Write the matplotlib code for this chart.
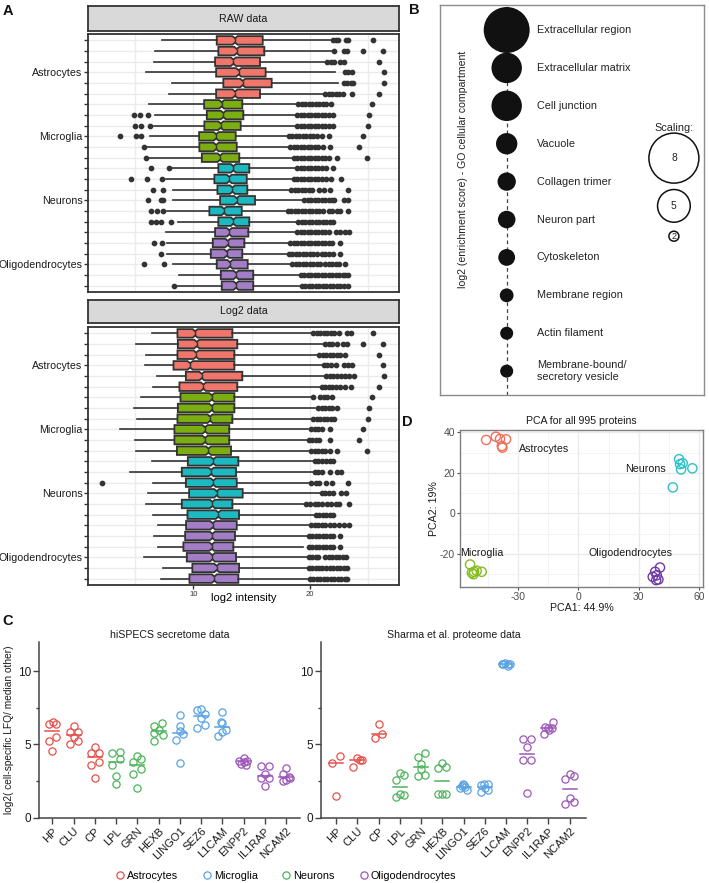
import numpy as np
import matplotlib
matplotlib.use('Agg')
import matplotlib.pyplot as plt
from matplotlib.lines import Line2D

plt.rcParams['font.family'] = ['Liberation Sans', 'DejaVu Sans']
plt.rcParams['axes.unicode_minus'] = False

# ======================= DATA =======================
cell_types = ['Astrocytes', 'Microglia', 'Neurons', 'Oligodendrocytes']
n_per_type = 6

# ---- Panel A: per-sample box statistics (log2 intensity scale) ----
raw_whislo = [7.29, 6.72, 6.63, 5.92, 8.15, 7.92, 6.2, 6.72, 6.63, 6.23, 6.0, 6.1,
              8.15, 7.63, 8.29, 8.29, 7.72, 8.7, 7.63, 7.72, 7.72, 8.29, 8.72, 8.6]
raw_q1 = [12.0, 12.14, 11.86, 11.95, 12.57, 11.95, 10.92, 11.15, 10.94, 10.49, 10.51, 10.72,
          12.14, 11.8, 12.06, 12.29, 11.37, 12.14, 11.86, 11.66, 11.49, 12.0, 12.35, 12.43]
raw_med = [13.57, 13.72, 13.43, 13.89, 14.23, 13.57, 12.43, 12.57, 12.35, 11.95, 11.95, 12.29,
           13.43, 13.08, 13.35, 13.72, 12.63, 13.43, 13.08, 12.95, 12.86, 13.14, 13.66, 13.66]
raw_q3 = [15.95, 16.09, 15.72, 16.2, 16.72, 15.72, 14.2, 14.29, 14.06, 13.63, 13.72, 13.94,
          14.8, 14.58, 14.63, 15.29, 14.15, 14.8, 14.72, 14.38, 14.2, 14.66, 15.14, 15.14]
raw_whishi = [21.7, 21.86, 21.37, 22.14, 22.43, 21.14, 18.86, 18.71, 18.71, 18.14, 18.29, 18.57,
              18.71, 18.57, 18.29, 19.43, 17.9, 18.9, 18.8, 18.2, 18.1, 18.4, 19.1, 19.2]
raw_fliers = [
    [22.0, 22.2, 22.4, 23.1, 23.3, 25.4],
    [22.1, 22.9, 23.2, 24.6, 26.3],
    [21.5, 21.8, 22.1, 22.6, 22.9, 25.9],
    [23.0, 23.3, 23.6, 26.4],
    [22.9, 23.2, 23.5, 23.7, 26.4],
    [21.3, 21.6, 21.9, 22.2, 22.5, 22.8, 23.6, 25.9],
    [19.0, 19.3, 19.6, 19.9, 20.2, 20.5, 20.8, 21.1, 21.4, 21.8, 25.3],
    [4.9, 5.4, 6.1, 18.9, 19.2, 19.5, 19.8, 20.1, 20.4, 20.7, 21.0, 21.3, 21.6, 22.0, 25.1],
    [5.0, 5.5, 6.3, 18.9, 19.2, 19.5, 19.8, 20.1, 20.4, 20.7, 21.0, 21.3, 21.6, 22.0, 25.0],
    [3.7, 5.1, 5.5, 18.2, 18.5, 18.8, 19.1, 19.4, 19.7, 20.0, 20.3, 20.6, 21.0, 21.6, 24.6],
    [5.8, 18.3, 18.6, 18.9, 19.2, 19.5, 19.8, 20.1, 20.4, 20.7, 21.1, 21.7, 24.2],
    [5.9, 18.6, 18.9, 19.2, 19.5, 19.8, 20.1, 20.4, 20.7, 21.0, 21.3, 21.6, 22.3, 24.9],
    [6.4, 7.9, 18.9, 19.2, 19.5, 19.8, 20.1, 20.4, 20.7, 21.0, 21.4, 22.0],
    [4.6, 6.0, 7.3, 18.6, 18.9, 19.2, 19.5, 19.8, 20.1, 20.4, 20.7, 21.0, 21.4, 21.8, 22.7],
    [6.5, 7.4, 18.4, 18.7, 19.0, 19.3, 19.6, 19.9, 20.2, 20.8, 21.2, 21.7, 23.3],
    [6.1, 7.2, 7.4, 19.5, 19.8, 20.1, 20.4, 20.7, 21.0, 21.3, 21.6, 21.9, 22.1, 22.9, 23.3],
    [6.4, 6.9, 7.4, 18.1, 18.4, 18.7, 19.0, 19.3, 19.6, 19.9, 20.2, 20.5, 20.8, 21.1, 21.6, 21.9, 22.3, 22.6, 23.3],
    [6.4, 6.8, 7.2, 8.1, 19.0, 19.3, 19.6, 19.9, 20.2, 20.5, 20.8, 21.1, 21.4, 21.7, 22.0],
    [18.9, 19.2, 19.5, 19.8, 20.1, 20.4, 20.7, 21.0, 21.3, 21.6, 22.2, 22.6, 23.0, 23.4],
    [6.6, 7.3, 18.3, 18.6, 18.9, 19.2, 19.5, 19.8, 20.1, 20.4, 20.7, 21.0, 21.3, 21.6, 21.9, 22.6],
    [7.2, 18.2, 18.5, 18.8, 19.1, 19.4, 19.7, 20.0, 20.3, 20.6, 21.0, 21.3, 21.6, 22.0, 22.6],
    [5.8, 7.5, 18.5, 18.8, 19.1, 19.4, 19.7, 20.0, 20.3, 20.6, 20.9, 21.3, 21.6, 21.9, 22.2, 22.5, 23.0],
    [19.2, 19.5, 19.8, 20.1, 20.4, 20.7, 21.0, 21.3, 21.6, 21.9, 22.2, 22.5, 22.8, 23.0, 23.3],
    [8.3, 19.3, 19.6, 19.9, 20.2, 20.5, 20.8, 21.1, 21.4, 21.7, 22.0, 22.3, 22.6, 22.9, 23.3],
]

log_whislo = [6.43, 5.07, 5.95, 5.86, 6.86, 6.52, 5.49, 4.92, 5.15, 3.72, 5.0, 5.1,
              6.43, 4.58, 6.52, 6.14, 5.95, 6.52, 6.95, 6.63, 7.0, 5.78, 7.43, 7.24]
log_q1 = [8.63, 8.66, 8.63, 8.29, 9.35, 8.8, 8.89, 8.66, 8.63, 8.37, 8.37, 8.58,
          9.52, 9.0, 9.35, 9.63, 9.0, 9.49, 9.37, 9.29, 9.14, 9.43, 9.91, 9.66]
log_med = [10.15, 10.29, 10.23, 9.72, 10.72, 10.86, 11.58, 11.58, 11.43, 11.0, 11.0, 11.29,
           11.71, 11.52, 11.71, 12.0, 11.63, 12.14, 11.66, 11.63, 11.58, 11.63, 12.0, 11.8]
log_q3 = [13.35, 13.77, 13.52, 13.52, 14.2, 13.77, 13.52, 13.52, 13.35, 13.08, 13.08, 13.23,
          13.86, 13.66, 13.72, 14.23, 13.35, 13.92, 13.72, 13.57, 13.43, 13.66, 13.92, 13.86]
log_whishi = [20.2, 21.2, 20.7, 21.1, 21.35, 20.95, 20.2, 20.4, 20.2, 19.85, 19.77, 20.0,
              20.3, 20.3, 20.0, 20.9, 19.6, 20.4, 20.0, 19.8, 19.37, 19.8, 19.8, 19.9]
log_fliers = [
    [20.3, 20.6, 20.9, 21.2, 21.5, 21.8, 22.1, 22.5, 23.2, 23.5, 25.4],
    [21.3, 21.6, 21.9, 22.3, 22.8, 23.2, 24.6, 26.3],
    [20.8, 21.1, 21.4, 21.7, 22.0, 22.3, 22.6, 23.0, 25.9],
    [21.2, 21.5, 21.8, 22.2, 22.9, 23.3, 23.6, 26.3],
    [21.4, 21.7, 22.0, 22.3, 22.7, 23.0, 23.4, 23.8, 26.4],
    [21.0, 21.3, 21.6, 21.9, 22.2, 22.6, 23.0, 23.5, 25.9],
    [20.3, 20.9, 21.2, 21.5, 21.9, 25.3],
    [20.7, 21.0, 21.3, 21.6, 21.9, 22.3, 25.1],
    [20.3, 20.6, 20.9, 21.2, 21.5, 21.8, 22.1, 25.0],
    [20.1, 20.4, 20.7, 21.0, 21.7, 24.6],
    [19.9, 20.2, 20.5, 20.8, 21.7, 24.2],
    [20.1, 20.4, 20.7, 21.0, 21.3, 21.7, 22.3, 24.9],
    [20.4, 20.7, 21.0, 21.4, 21.7, 22.0],
    [20.4, 20.7, 21.0, 21.7, 22.3, 22.7],
    [2.15, 20.1, 20.5, 20.8, 21.4, 21.9, 23.3],
    [21.0, 21.3, 21.6, 22.0, 22.7, 23.1],
    [19.7, 20.0, 20.4, 20.7, 21.0, 21.5, 21.8, 22.2, 22.5, 23.4],
    [20.5, 20.8, 21.1, 21.4, 21.7, 22.0],
    [20.1, 20.4, 20.7, 21.0, 21.3, 21.7, 22.1, 22.5, 22.9, 23.4],
    [19.9, 20.2, 20.5, 20.8, 21.1, 21.4, 21.7, 22.0, 22.6],
    [19.9, 20.2, 20.5, 20.8, 21.1, 21.4, 21.7, 22.0, 22.6],
    [19.9, 20.2, 20.5, 20.7, 21.3, 21.6, 21.9, 22.2, 22.5, 22.8, 23.1],
    [19.9, 20.2, 20.5, 20.8, 21.0, 21.4, 21.7, 22.0, 22.3, 22.6, 22.9, 23.2],
    [20.0, 20.3, 20.6, 20.9, 21.2, 21.5, 21.8, 22.1, 22.4, 22.7, 23.0, 23.2],
]
notch_halfwidth = 0.22

# ---- Panel B: GO enrichment ----
go_terms = ['Extracellular region', 'Extracellular matrix', 'Cell junction', 'Vacuole',
            'Collagen trimer', 'Neuron part', 'Cytoskeleton', 'Membrane region',
            'Actin filament', 'Membrane-bound/\nsecretory vesicle']
go_score = [7.3, 4.7, 4.7, 3.5, 3.1, 3.0, 2.9, 2.5, 2.4, 2.4]
legend_scores = [8, 5, 2]

# ---- Panel C: marker proteins ----
genes = ['HP', 'CLU', 'CP', 'LPL', 'GRN', 'HEXB', 'LINGO1', 'SEZ6', 'L1CAM', 'ENPP2', 'IL1RAP', 'NCAM2']
gene_type = ['Astrocytes'] * 3 + ['Neurons'] * 3 + ['Microglia'] * 3 + ['Oligodendrocytes'] * 3
hispecs_vals = [
    [6.39, 6.53, 6.39, 5.26, 5.50, 4.57],
    [6.28, 5.84, 5.84, 5.47, 5.03, 5.2],
    [4.85, 4.44, 4.44, 3.58, 3.77, 2.73],
    [4.44, 4.46, 4.0, 3.58, 2.84, 2.31],
    [4.2, 3.81, 4.0, 3.35, 2.96, 2.04],
    [6.23, 6.46, 6.0, 5.66, 5.77, 5.26],
    [6.97, 6.28, 5.31, 5.7, 5.89, 3.74],
    [7.34, 7.43, 7.04, 6.81, 6.12, 6.35],
    [7.22, 6.5, 6.45, 5.95, 5.59, 5.85],
    [4.09, 3.88, 3.88, 3.65, 3.58, 3.81],
    [3.51, 3.51, 3.0, 2.73, 2.73, 2.13],
    [3.42, 2.96, 2.8, 2.5, 2.55, 2.7],
]
hispecs_jitter = [
    [-0.16, 0.03, 0.19, -0.16, 0.19, 0.0],
    [0.0, -0.19, 0.19, 0.0, -0.19, 0.19],
    [0.02, -0.16, 0.2, -0.16, 0.2, 0.02],
    [-0.19, 0.19, 0.19, -0.19, 0.0, 0.0],
    [0.0, -0.2, 0.17, 0.17, -0.2, 0.0],
    [-0.2, 0.16, 0.0, 0.19, -0.2, -0.2],
    [0.0, 0.0, -0.19, 0.16, 0.0, 0.0],
    [-0.2, 0.0, 0.2, 0.0, -0.2, 0.19],
    [-0.03, -0.06, 0.0, 0.19, -0.19, 0.0],
    [0.0, -0.19, 0.16, -0.11, 0.13, 0.0],
    [-0.19, 0.19, 0.0, -0.19, 0.19, 0.0],
    [0.0, -0.16, 0.16, -0.16, 0.0, 0.19],
]
sharma_vals = [
    [3.75, 4.18, 1.45],
    [4.05, 3.95, 3.93, 3.48],
    [6.41, 5.45, 5.73],
    [3.07, 2.55, 2.89, 1.41, 1.52, 1.64],
    [4.14, 4.43, 3.64, 2.84, 2.91, 3.3],
    [3.36, 3.48, 3.75, 1.64, 1.64, 1.64],
    [2.05, 2.23, 2.16, 1.86, 2.09, 2.32],
    [2.2, 2.32, 1.75, 1.86, 2.05, 2.32],
    [10.5, 10.57, 10.5, 10.45, 10.34, 10.45],
    [5.34, 5.34, 4.82, 3.91, 3.91, 1.68],
    [5.73, 6.18, 6.09, 6.52, 6.09, 5.95],
    [2.61, 3.0, 2.84, 0.95, 1.09, 1.36],
]
sharma_jitter = [
    [-0.2, 0.16, 0.0],
    [0.0, 0.1, 0.19, -0.2],
    [0.0, -0.19, 0.17],
    [0.0, -0.2, 0.17, -0.2, 0.17, 0.0],
    [-0.17, 0.19, 0.0, -0.17, 0.19, 0.0],
    [-0.19, 0.17, 0.0, -0.19, 0.17, 0.0],
    [-0.19, 0.0, -0.09, 0.17, 0.06, -0.03],
    [-0.19, 0.16, -0.19, 0.16, 0.0, -0.03],
    [-0.2, -0.05, 0.11, 0.19, 0.08, -0.13],
    [-0.2, 0.17, 0.0, -0.2, 0.17, 0.0],
    [-0.19, -0.16, 0.0, 0.2, 0.19, 0.03],
    [-0.2, 0.0, 0.19, -0.2, 0.19, 0.0],
]

# ---- Panel D: PCA ----
pca_pc1 = {
    'Astrocytes': [-45.9, -41.1, -39.0, -36.0, -38.1, -37.8],
    'Microglia': [-53.9, -53.0, -51.9, -50.6, -48.1, -52.2],
    'Neurons': [50.1, 50.6, 51.9, 51.1, 56.7, 47.0],
    'Oligodendrocytes': [40.6, 38.2, 39.0, 37.0, 39.8, 38.7],
}
pca_pc2 = {
    'Astrocytes': [36.2, 37.8, 36.7, 36.5, 33.2, 32.4],
    'Microglia': [-25.2, -29.3, -28.8, -28.3, -28.8, -30.0],
    'Neurons': [26.7, 24.3, 24.7, 21.7, 22.2, 12.8],
    'Oligodendrocytes': [-26.7, -28.8, -30.5, -31.3, -32.6, -32.9],
}
pca_label_pos = {
    'Astrocytes': (-17.1, 31.8),
    'Neurons': (33.5, 21.7),
    'Microglia': (-48.1, -19.5),
    'Oligodendrocytes': (26.1, -19.5),
}

# ======================= STYLE =======================
W, H = 709, 883
fig = plt.figure(figsize=(W / 100, H / 100), dpi=100)
DARK = '#333333'
GRID = '#EBEBEB'
box_colors = {'Astrocytes': '#F0766C', 'Microglia': '#7CAE12', 'Neurons': '#1DB9C0',
              'Oligodendrocytes': '#A37DC6'}
pca_colors = {'Astrocytes': '#F0705A', 'Microglia': '#86BC1E', 'Neurons': '#2EC0C8',
              'Oligodendrocytes': '#6E3AA6'}
c_colors = {'Astrocytes': '#E4504A', 'Microglia': '#5AA3E3', 'Neurons': '#4DB45A',
            'Oligodendrocytes': '#9C56B8'}


def ax_px(x0, y0, x1, y1, **kw):
    return fig.add_axes([x0 / W, 1 - y1 / H, (x1 - x0) / W, (y1 - y0) / H], **kw)


# ======================= PANEL A =======================
def box_panel(ax, whislo, q1, med, q3, whishi, fliers, show_x):
    n = len(med)
    stats = []
    for i in range(n):
        stats.append(dict(whislo=whislo[i], q1=q1[i], med=med[i], q3=q3[i], whishi=whishi[i],
                          fliers=np.array(fliers[i]), cilo=med[i] - notch_halfwidth,
                          cihi=med[i] + notch_halfwidth))
    bp = ax.bxp(stats, positions=np.arange(n), widths=0.8, orientation='horizontal',
                shownotches=True, patch_artist=True, showcaps=False, manage_ticks=False,
                boxprops=dict(edgecolor=DARK, linewidth=1.3),
                whiskerprops=dict(color=DARK, linewidth=1.2),
                medianprops=dict(color=DARK, linewidth=1.0),
                flierprops=dict(marker='o', markerfacecolor=DARK, markeredgecolor=DARK,
                                markersize=3.1, linestyle='none'))
    for i, patch in enumerate(bp['boxes']):
        patch.set_facecolor(box_colors[cell_types[i // n_per_type]])
    ax.set_ylim(n - 0.4, -0.6)
    ax.set_xlim(0.95, 27.65)
    ax.set_xticks([10, 20])
    ax.set_xticks([5, 15, 25], minor=True)
    ax.set_yticks(np.arange(n))
    labels = ['' for _ in range(n)]
    for k, ct in enumerate(cell_types):
        labels[k * n_per_type + 3] = ct
    ax.set_yticklabels(labels, fontsize=7.7, color='#1A1A1A')
    ax.grid(True, which='both', axis='x', color=GRID, linewidth=1.0)
    ax.grid(True, which='major', axis='y', color=GRID, linewidth=1.0)
    ax.set_axisbelow(True)
    ax.tick_params(axis='y', length=3, width=1, color=DARK, pad=1)
    ax.tick_params(axis='x', which='minor', length=0)
    if show_x:
        ax.tick_params(axis='x', which='major', length=3, width=1, color=DARK,
                       labelsize=5.5, pad=1.5, labelcolor=DARK)
        ax.set_xlabel('log2 intensity', fontsize=8, labelpad=-4)
    else:
        ax.tick_params(axis='x', which='major', length=0, labelbottom=False)
    for s in ax.spines.values():
        s.set_color(DARK)
        s.set_linewidth(1.3)


def strip(ax, text):
    ax.set_facecolor('#D9D9D9')
    ax.set_xticks([])
    ax.set_yticks([])
    for s in ax.spines.values():
        s.set_color(DARK)
        s.set_linewidth(1.3)
    ax.text(0.5, 0.5, text, ha='center', va='center', fontsize=7.7, color='#1A1A1A',
            transform=ax.transAxes)


axA1 = ax_px(88, 34, 399, 292)
box_panel(axA1, raw_whislo, raw_q1, raw_med, raw_q3, raw_whishi, raw_fliers, False)
strip(ax_px(88, 6, 399, 31), 'RAW data')

axA2 = ax_px(88, 327, 399, 585)
box_panel(axA2, log_whislo, log_q1, log_med, log_q3, log_whishi, log_fliers, True)
strip(ax_px(88, 300, 399, 323), 'Log2 data')

# ======================= PANEL B =======================
axB = ax_px(440, 5, 704, 395)
axB.set_xlim(0, 1)
axB.set_ylim(9.63, -0.66)
axB.set_xticks([])
axB.set_yticks([])
for s in axB.spines.values():
    s.set_color('#8C8C8C')
    s.set_linewidth(1.0)


def score_to_s(v):
    d_px = np.interp(v, [2, 5, 8], [10, 32.7, 50])
    return (d_px * 0.72) ** 2


xline = 0.2526
axB.axvline(xline, color='#444444', linestyle=(0, (3, 2.5)), linewidth=0.9, zorder=1)
ypos = np.arange(len(go_terms))
axB.scatter(np.full(len(go_terms), xline), ypos, s=[score_to_s(v) for v in go_score],
            color='#111111', linewidths=0, zorder=3)
for i, t in enumerate(go_terms):
    axB.text(0.367, ypos[i], t, ha='left', va='center', fontsize=7.8, color='#222222',
             linespacing=1.3)
axB.text(0.087, 3.69, 'log2 (enrichment score) - GO cellular compartment', rotation=90,
         ha='center', va='center', fontsize=7.6, color='#222222')
axB.text(0.886, 2.59, 'Scaling:', ha='center', va='center', fontsize=7.8, color='#222222')
leg_y = [3.38, 4.64, 5.44]
axB.scatter(np.full(3, 0.886), leg_y, s=[score_to_s(v) for v in legend_scores],
            facecolors='white', edgecolors='#111111', linewidths=1.1, zorder=3)
for yy, v in zip(leg_y, legend_scores):
    axB.text(0.886, yy, str(v), ha='center', va='center', fontsize=7.4 if v > 2 else 6.5,
             color='#222222', zorder=4)

# ======================= PANEL D =======================
axD = ax_px(460, 430, 703, 587)
for ct in cell_types:
    axD.scatter(pca_pc1[ct], pca_pc2[ct], s=44, facecolors='none',
                edgecolors=pca_colors[ct], linewidths=1.0, zorder=3)
    lx, ly = pca_label_pos[ct]
    axD.text(lx, ly, ct, ha='center', va='center', fontsize=7.7, color='#1A1A1A', zorder=4)
axD.set_xlim(-58.9, 62)
axD.set_ylim(-36.3, 41.1)
axD.set_xticks([-30, 0, 30, 60])
axD.set_xticks([-45, -15, 15, 45], minor=True)
axD.set_yticks([-20, 0, 20, 40])
axD.set_yticks([-30, -10, 10, 30], minor=True)
axD.grid(True, which='major', color=GRID, linewidth=1.0)
axD.grid(True, which='minor', color='#F2F2F2', linewidth=0.6)
axD.set_axisbelow(True)
axD.tick_params(which='major', length=2.5, width=0.8, color='#4D4D4D', labelsize=7.5,
                labelcolor='#4D4D4D', pad=1)
axD.tick_params(which='minor', length=0)
for s in axD.spines.values():
    s.set_color('#7F7F7F')
    s.set_linewidth(1.0)
axD.set_title('PCA for all 995 proteins', fontsize=7.6, pad=4, color='#1A1A1A')
axD.set_xlabel('PCA1: 44.9%', fontsize=7.7, labelpad=1, color='#1A1A1A')
axD.set_ylabel('PCA2: 19%', fontsize=7.7, labelpad=1, color='#1A1A1A')

# ======================= PANEL C =======================
def dot_panel(ax, vals, jitter, title, xlim, show_ylabel):
    for i, g in enumerate(genes):
        col = c_colors[gene_type[i]]
        x = i + np.array(jitter[i])
        ax.plot(x, vals[i], 'o', markerfacecolor='none', markeredgecolor=col,
                markersize=5.2, markeredgewidth=0.9, linestyle='none', zorder=3)
        m = np.median(vals[i])
        ax.plot([i - 0.33, i + 0.33], [m, m], color=col, linewidth=1.1, zorder=2)
    ax.set_xlim(*xlim)
    ax.set_ylim(0, 12)
    ax.set_xticks(np.arange(len(genes)))
    ax.set_xticklabels(genes, rotation=45, ha='right', va='top', rotation_mode='anchor',
                       fontsize=8, color='#1A1A1A')
    ax.set_yticks([0, 5, 10])
    ax.set_yticks([2.5, 7.5], minor=True)
    ax.tick_params(axis='y', which='major', length=4, width=1, color='#444444',
                   labelsize=8.5, labelcolor='#1A1A1A', pad=1.5)
    ax.tick_params(axis='y', which='minor', length=2.5, width=1, color='#444444')
    ax.tick_params(axis='x', which='major', length=4, width=1, color='#444444', pad=2)
    for side in ['top', 'right']:
        ax.spines[side].set_visible(False)
    for side in ['left', 'bottom']:
        ax.spines[side].set_color('#444444')
        ax.spines[side].set_linewidth(1.1)
    ax.set_title(title, fontsize=7.6, color='#1A1A1A', pad=3)
    if show_ylabel:
        ax.set_ylabel('log2( cell-specific LFQ/ median other)', fontsize=7.3,
                      color='#1A1A1A', labelpad=3)


axC1 = ax_px(39, 641.7, 300, 817.7)
dot_panel(axC1, hispecs_vals, hispecs_jitter, 'hiSPECS secretome data', (-0.63, 11.66), True)
axC2 = ax_px(321, 641.7, 586, 817.7)
dot_panel(axC2, sharma_vals, sharma_jitter, 'Sharma et al. proteome data', (-0.72, 11.77), False)

handles = [Line2D([], [], marker='o', linestyle='none', markerfacecolor='none',
                  markeredgecolor=c_colors[ct], markersize=5.2, markeredgewidth=0.9)
           for ct in cell_types]
fig.legend(handles, cell_types, ncol=4, loc='center', bbox_to_anchor=(286 / W, 1 - 876 / H),
           frameon=False, fontsize=7.8, handlelength=0.7, handletextpad=0.3,
           columnspacing=2.3, borderpad=0)

# ======================= panel letters =======================
for letter, (x, y) in {'A': (8, 11), 'B': (414, 10), 'C': (8, 621), 'D': (407, 422)}.items():
    fig.text(x / W, 1 - y / H, letter, fontsize=10.5, fontweight='bold', ha='center',
             va='center', color='#111111')

fig.savefig('out.png', dpi=100)
